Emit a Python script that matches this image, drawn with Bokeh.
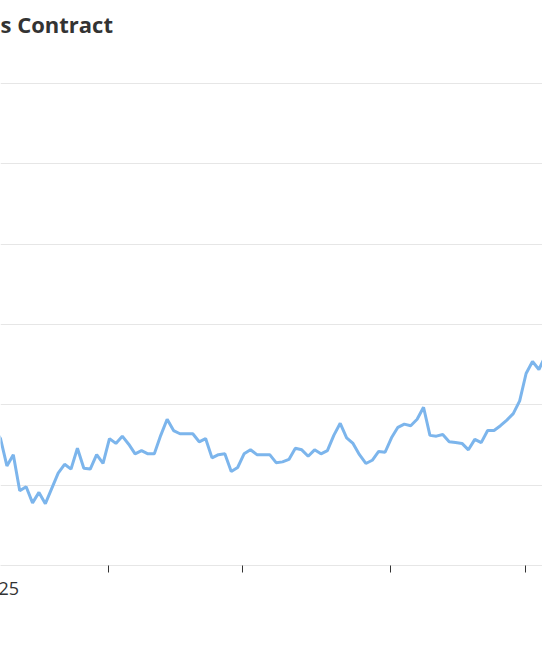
from bokeh.plotting import figure
from bokeh.models import FixedTicker, Range1d, Title
from bokeh.embed import file_html
from bokeh.resources import INLINE

# ---- data ----
title_text = "s Contract"
first_label_text = "25"
index = list(range(-1, 87))
price = [17.0,
         15.8, 12.4, 13.8, 9.3, 9.8, 7.8, 9.1, 7.7, 9.6, 11.5,
         12.6, 12.0, 14.6, 12.1, 12.0, 13.8, 12.7, 15.8, 15.2, 16.1,
         15.1, 13.9, 14.3, 13.9, 13.9, 16.2, 18.2, 16.8, 16.4, 16.4,
         16.4, 15.4, 15.8, 13.4, 13.8, 13.9, 11.7, 12.2, 13.9, 14.4,
         13.8, 13.8, 13.8, 12.8, 12.9, 13.2, 14.6, 14.4, 13.6, 14.4,
         13.9, 14.3, 16.2, 17.7, 15.9, 15.2, 13.8, 12.7, 13.1, 14.2,
         14.1, 15.9, 17.2, 17.6, 17.4, 18.2, 19.7, 16.2, 16.1, 16.3,
         15.4, 15.3, 15.2, 14.4, 15.7, 15.3, 16.8, 16.8, 17.4, 18.1,
         18.9, 20.5, 23.9, 25.4, 24.4, 26.1, 27.4]
x_ticks = [16.85, 37.75, 60.84, 81.9]
y_ticks = [0, 10, 20, 30, 40, 50, 60]
x_start, x_end = 0.0, 84.56
y_start, y_end = 0.0, 65.23

p = figure(width=542, height=642, output_backend="svg", toolbar_location=None,
           x_range=Range1d(x_start, x_end), y_range=Range1d(y_start, y_end),
           min_border_left=0, min_border_right=0, min_border_top=41,
           min_border_bottom=77)
p.outline_line_color = None
p.background_fill_color = "white"

p.title.text = title_text
p.title.text_font = "Open Sans"
p.title.text_font_size = "22px"
p.title.text_font_style = "bold"
p.title.text_color = "#333333"
p.title.align = "left"
p.title.offset = 0
p.title.standoff = 5

p.line(index, price, line_color="#7cb5ec", line_width=3)

p.yaxis.visible = False
p.ygrid.ticker = FixedTicker(ticks=y_ticks)
p.ygrid.grid_line_color = "#e6e6e6"
p.xgrid.visible = False

xa = p.xaxis[0]
xa.ticker = FixedTicker(ticks=x_ticks)
xa.major_label_overrides = {t: "" for t in x_ticks}
xa.axis_line_color = "#e6e6e6"
xa.major_tick_line_color = "#333333"
xa.major_tick_out = 7
xa.major_tick_in = 0
xa.minor_tick_line_color = None
xa.major_label_text_font_size = "1px"
xa.major_label_standoff = 0

sub = Title(text=first_label_text, align="left", offset=-2, standoff=14,
            text_font="Open Sans", text_font_size="18px",
            text_font_style="normal", text_color="#333333")
p.add_layout(sub, "below")

open("out.html", "w").write(file_html(p, INLINE))
